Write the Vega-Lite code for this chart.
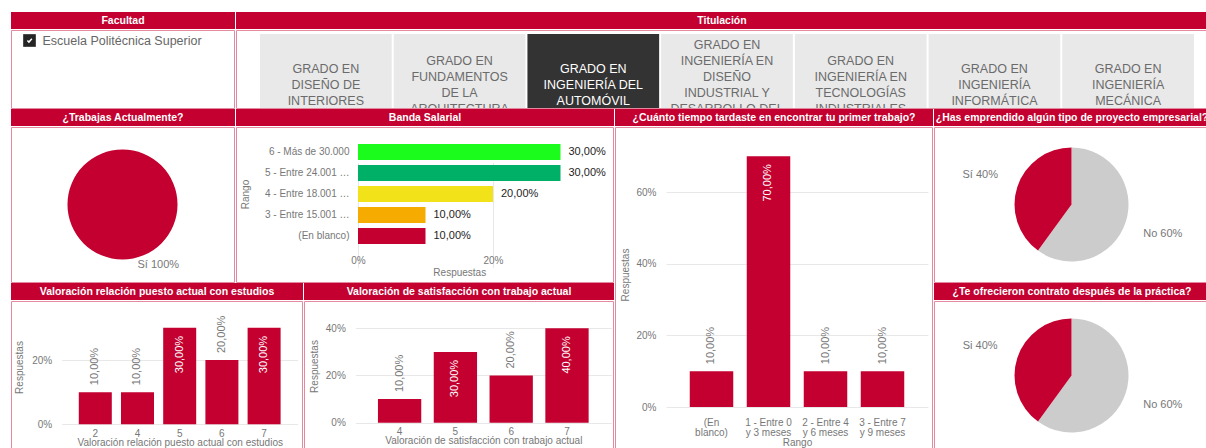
{
  "$schema": "https://vega.github.io/schema/vega-lite/v6.json",
  "padding": {"left": 10, "top": 12, "right": 0, "bottom": 0},
  "spacing": 0,
  "resolve": {"scale": {"color": "independent", "theta": "independent"}},
  "config": {
    "font": "Liberation Sans",
    "view": {"stroke": null},
    "concat": {"spacing": 0},
    "locale": {"number": {"decimal": ",", "thousands": ".", "grouping": [3], "currency": ["", " €"]}},
    "axis": {
      "labelColor": "#777777", "titleColor": "#777777", "labelFontSize": 10, "titleFontSize": 10,
      "titleFontWeight": "normal", "ticks": false, "domain": false, "gridColor": "#e8e8e8",
      "labelFont": "Liberation Sans", "titleFont": "Liberation Sans", "labelFlush": false, "labelOverlap": false
    }
  },
  "vconcat": [
    {
      "resolve": {"scale": {"color": "independent", "theta": "independent"}},
      "hconcat": [
        {
          "resolve": {"scale": {"color": "independent", "theta": "independent"}},
          "vconcat": [
            {"width": 224, "height": 17, "view": {"fill": "#c3002f", "stroke": null},
             "data": {"values": [{"titulo": "Facultad"}]},
             "layer": [{"mark": {"type": "text", "color": "white", "fontWeight": "bold", "fontSize": 10.5, "clip": true},
                        "encoding": {"text": {"field": "titulo", "type": "nominal"}}}]},
            {"width": 223, "height": 78, "view": {"fill": "white", "stroke": "#e38aa1"},
             "data": {"values": [{"facultad": "Escuela Politécnica Superior", "seleccionada": "sí"}]},
             "encoding": {
               "y": {"field": "facultad", "type": "nominal", "axis": null, "scale": {"range": [0, 21]}},
               "x": {"field": "facultad", "type": "nominal", "axis": null, "scale": {"type": "point", "range": [18.5, 18.5]}}
             },
             "layer": [
               {"mark": {"type": "point", "shape": "square", "filled": true, "color": "#252525", "size": 160, "opacity": 1}},
               {"mark": {"type": "point", "shape": "M -0.55 0 L -0.15 0.4 L 0.6 -0.45", "filled": false, "stroke": "white", "strokeWidth": 1.5, "size": 60, "opacity": 1}},
               {"mark": {"type": "text", "align": "left", "baseline": "middle", "dx": 13, "fontSize": 12.5, "color": "#666666"},
                "encoding": {"text": {"field": "facultad", "type": "nominal"}}}
             ]}
          ]
        },
        {
          "resolve": {"scale": {"color": "independent", "theta": "independent"}},
          "vconcat": [
            {"width": 972, "height": 17, "view": {"fill": "#c3002f", "stroke": null},
             "data": {"values": [{"titulo": "Titulación"}]},
             "layer": [{"mark": {"type": "text", "color": "white", "fontWeight": "bold", "fontSize": 10.5, "clip": true},
                        "encoding": {"text": {"field": "titulo", "type": "nominal"}}}]},
            {"width": 971, "height": 78, "view": {"fill": "white", "stroke": "#e38aa1"},
             "data": {"values": [
               {"titulacion": "GRADO EN DISEÑO DE INTERIORES", "etiqueta": "GRADO EN\nDISEÑO DE\nINTERIORES", "seleccionada": "no", "grupo": "Titulación"},
               {"titulacion": "GRADO EN FUNDAMENTOS DE LA ARQUITECTURA", "etiqueta": "GRADO EN\nFUNDAMENTOS\nDE LA\nARQUITECTURA", "seleccionada": "no", "grupo": "Titulación"},
               {"titulacion": "GRADO EN INGENIERÍA DEL AUTOMÓVIL", "etiqueta": "GRADO EN\nINGENIERÍA DEL\nAUTOMÓVIL", "seleccionada": "sí", "grupo": "Titulación"},
               {"titulacion": "GRADO EN INGENIERÍA EN DISEÑO INDUSTRIAL Y DESARROLLO DEL PRODUCTO", "etiqueta": "GRADO EN\nINGENIERÍA EN\nDISEÑO\nINDUSTRIAL Y\nDESARROLLO DEL\nPRODUCTO", "seleccionada": "no", "grupo": "Titulación"},
               {"titulacion": "GRADO EN INGENIERÍA EN TECNOLOGÍAS INDUSTRIALES", "etiqueta": "GRADO EN\nINGENIERÍA EN\nTECNOLOGÍAS\nINDUSTRIALES", "seleccionada": "no", "grupo": "Titulación"},
               {"titulacion": "GRADO EN INGENIERÍA INFORMÁTICA", "etiqueta": "GRADO EN\nINGENIERÍA\nINFORMÁTICA", "seleccionada": "no", "grupo": "Titulación"},
               {"titulacion": "GRADO EN INGENIERÍA MECÁNICA", "etiqueta": "GRADO EN\nINGENIERÍA\nMECÁNICA", "seleccionada": "no", "grupo": "Titulación"}
             ]},
             "encoding": {
               "x": {"field": "titulacion", "type": "nominal", "sort": null, "axis": null, "scale": {"range": [24, 958], "paddingInner": 0.015, "paddingOuter": 0}},
               "y": {"field": "grupo", "type": "nominal", "axis": null, "scale": {"range": [4, 105], "paddingInner": 0, "paddingOuter": 0}}
             },
             "layer": [
               {"mark": {"type": "rect", "clip": true},
                "encoding": {"color": {"field": "seleccionada", "type": "nominal", "legend": null, "scale": {"domain": ["no", "sí"], "range": ["#e9e9e9", "#333333"]}}}},
               {"transform": [{"filter": "length(split(datum.etiqueta, '\\n')) == 3"}],
                "mark": {"type": "text", "clip": true, "lineBreak": "\n", "lineHeight": 16, "fontSize": 12.5, "baseline": "middle", "dy": -16},
                "encoding": {
                  "text": {"field": "etiqueta", "type": "nominal"},
                  "color": {"field": "seleccionada", "type": "nominal", "legend": null, "scale": {"domain": ["no", "sí"], "range": ["#6b6b6b", "#ffffff"]}}
                }},
               {"transform": [{"filter": "length(split(datum.etiqueta, '\\n')) == 4"}],
                "mark": {"type": "text", "clip": true, "lineBreak": "\n", "lineHeight": 16, "fontSize": 12.5, "baseline": "middle", "dy": -24},
                "encoding": {
                  "text": {"field": "etiqueta", "type": "nominal"},
                  "color": {"field": "seleccionada", "type": "nominal", "legend": null, "scale": {"domain": ["no", "sí"], "range": ["#6b6b6b", "#ffffff"]}}
                }},
               {"transform": [{"filter": "length(split(datum.etiqueta, '\\n')) == 6"}],
                "mark": {"type": "text", "clip": true, "lineBreak": "\n", "lineHeight": 16, "fontSize": 12.5, "baseline": "middle", "dy": -40},
                "encoding": {
                  "text": {"field": "etiqueta", "type": "nominal"},
                  "color": {"field": "seleccionada", "type": "nominal", "legend": null, "scale": {"domain": ["no", "sí"], "range": ["#6b6b6b", "#ffffff"]}}
                }}
             ],
             "resolve": {"scale": {"color": "independent"}}}
          ]
        }
      ]
    },
    {
      "resolve": {"scale": {"color": "independent", "theta": "independent"}},
      "hconcat": [
        {
          "resolve": {"scale": {"color": "independent", "theta": "independent"}},
          "vconcat": [
            {
              "resolve": {"scale": {"color": "independent", "theta": "independent"}},
              "hconcat": [
                {
                  "resolve": {"scale": {"color": "independent", "theta": "independent"}},
                  "vconcat": [
                    {"width": 224, "height": 17, "view": {"fill": "#c3002f", "stroke": null},
                     "data": {"values": [{"titulo": "¿Trabajas Actualmente?"}]},
                     "layer": [{"mark": {"type": "text", "color": "white", "fontWeight": "bold", "fontSize": 10.5, "clip": true},
                                "encoding": {"text": {"field": "titulo", "type": "nominal"}}}]},
                    {"width": 223, "height": 155, "view": {"fill": "white", "stroke": "#e38aa1"},
                     "data": {"values": [{"respuesta": "Sí", "pct": 1}]},
                     "encoding": {"theta": {"field": "pct", "type": "quantitative", "stack": true}},
                     "layer": [
                       {"mark": {"type": "arc", "outerRadius": 55},
                        "encoding": {"color": {"field": "respuesta", "type": "nominal", "legend": null, "scale": {"domain": ["Sí"], "range": ["#c3002f"]}}}},
                       {"transform": [{"calculate": "datum.respuesta + ' ' + format(datum.pct, '.0%')", "as": "etiqueta"}],
                        "mark": {"type": "text", "radius": 60, "align": "left", "baseline": "middle", "dx": 15, "fontSize": 11, "color": "#777777"},
                        "encoding": {"text": {"field": "etiqueta", "type": "nominal"}, "detail": {"field": "respuesta", "type": "nominal"}}}
                     ]}
                  ]
                },
                {
                  "resolve": {"scale": {"color": "independent", "theta": "independent"}},
                  "vconcat": [
                    {"width": 378, "height": 17, "view": {"fill": "#c3002f", "stroke": null},
                     "data": {"values": [{"titulo": "Banda Salarial"}]},
                     "layer": [{"mark": {"type": "text", "color": "white", "fontWeight": "bold", "fontSize": 10.5, "clip": true},
                                "encoding": {"text": {"field": "titulo", "type": "nominal"}}}]},
                    {"width": 377, "height": 155, "view": {"fill": "white", "stroke": "#e38aa1"},
                     "data": {"values": [
                       {"rango": "6 - Más de 30.000", "pct": 0.3},
                       {"rango": "5 - Entre 24.001 y 30.000", "pct": 0.3},
                       {"rango": "4 - Entre 18.001 y 24.000", "pct": 0.2},
                       {"rango": "3 - Entre 15.001 y 18.000", "pct": 0.1},
                       {"rango": "(En blanco)", "pct": 0.1}
                     ]},
                     "encoding": {
                       "y": {"field": "rango", "type": "nominal", "sort": null,
                             "scale": {"range": [14.5, 119.5], "paddingInner": 0.238, "paddingOuter": 0.119},
                             "axis": {"orient": "left", "offset": -122, "labelPadding": 9, "labelLimit": 86, "title": "Rango", "titlePadding": 14, "grid": false}},
                       "x": {"field": "pct", "type": "quantitative",
                             "scale": {"domain": [0, 0.3], "range": [122, 324.5], "nice": false},
                             "axis": {"orient": "bottom", "offset": -31, "values": [0, 0.2], "format": ".0%", "labelPadding": 4, "title": "Respuestas", "titlePadding": 2, "grid": true}}
                     },
                     "layer": [
                       {"mark": {"type": "bar"},
                        "encoding": {"color": {"field": "rango", "type": "nominal", "legend": null,
                          "scale": {"domain": ["6 - Más de 30.000", "5 - Entre 24.001 y 30.000", "4 - Entre 18.001 y 24.000", "3 - Entre 15.001 y 18.000", "(En blanco)"],
                                    "range": ["#1cfc1c", "#00b067", "#f2e21a", "#f5ab00", "#c3002f"]}}}},
                       {"mark": {"type": "text", "align": "left", "baseline": "middle", "dx": 8, "fontSize": 11, "color": "#252423"},
                        "encoding": {"text": {"field": "pct", "type": "quantitative", "format": ".2%"}}}
                     ]}
                  ]
                }
              ]
            },
            {
              "resolve": {"scale": {"color": "independent", "theta": "independent"}},
              "hconcat": [
                {
                  "resolve": {"scale": {"color": "independent", "theta": "independent"}},
                  "vconcat": [
                    {"width": 292, "height": 17, "view": {"fill": "#c3002f", "stroke": null},
                     "data": {"values": [{"titulo": "Valoración relación puesto actual con estudios"}]},
                     "layer": [{"mark": {"type": "text", "color": "white", "fontWeight": "bold", "fontSize": 10.5, "clip": true},
                                "encoding": {"text": {"field": "titulo", "type": "nominal"}}}]},
                    {"width": 291, "height": 149, "view": {"fill": "white", "stroke": "#e38aa1"},
                     "data": {"values": [
                       {"valor": 2, "pct": 0.1}, {"valor": 4, "pct": 0.1}, {"valor": 5, "pct": 0.3}, {"valor": 6, "pct": 0.2}, {"valor": 7, "pct": 0.3}
                     ]},
                     "encoding": {
                       "x": {"field": "valor", "type": "ordinal",
                             "scale": {"range": [50.7, 286.7], "paddingInner": 0.218, "paddingOuter": 0.405},
                             "axis": {"orient": "bottom", "offset": -25.7, "labelAngle": 0, "labelPadding": 4, "title": "Valoración relación puesto actual con estudios", "titlePadding": -1}},
                       "y": {"field": "pct", "type": "quantitative",
                             "scale": {"domain": [0, 0.3565], "range": [123.3, 8.7], "nice": false},
                             "axis": {"orient": "left", "offset": -50.7, "values": [0, 0.2], "format": ".0%", "labelPadding": 10, "title": "Respuestas", "titlePadding": 7, "grid": true}}
                     },
                     "layer": [
                       {"mark": {"type": "bar", "color": "#c3002f"}},
                       {"transform": [{"filter": "datum.pct < 0.3"}],
                        "mark": {"type": "text", "angle": 270, "align": "left", "baseline": "middle", "dx": 7, "fontSize": 11, "color": "#777777"},
                        "encoding": {"text": {"field": "pct", "type": "quantitative", "format": ".2%"}}},
                       {"transform": [{"filter": "datum.pct >= 0.3"}],
                        "mark": {"type": "text", "angle": 270, "align": "right", "baseline": "middle", "dx": -8, "fontSize": 11, "color": "#ffffff"},
                        "encoding": {"text": {"field": "pct", "type": "quantitative", "format": ".2%"}}}
                     ]}
                  ]
                },
                {
                  "resolve": {"scale": {"color": "independent", "theta": "independent"}},
                  "vconcat": [
                    {"width": 310, "height": 17, "view": {"fill": "#c3002f", "stroke": null},
                     "data": {"values": [{"titulo": "Valoración de satisfacción con trabajo actual"}]},
                     "layer": [{"mark": {"type": "text", "color": "white", "fontWeight": "bold", "fontSize": 10.5, "clip": true},
                                "encoding": {"text": {"field": "titulo", "type": "nominal"}}}]},
                    {"width": 309, "height": 149, "view": {"fill": "white", "stroke": "#e38aa1"},
                     "data": {"values": [
                       {"valor": 4, "pct": 0.1}, {"valor": 5, "pct": 0.3}, {"valor": 6, "pct": 0.2}, {"valor": 7, "pct": 0.4}
                     ]},
                     "encoding": {
                       "x": {"field": "valor", "type": "ordinal",
                             "scale": {"range": [51.3, 307.3], "paddingInner": 0.224, "paddingOuter": 0.406},
                             "axis": {"orient": "bottom", "offset": -27.3, "labelAngle": 0, "labelPadding": 4, "title": "Valoración de satisfacción con trabajo actual", "titlePadding": -1}},
                       "y": {"field": "pct", "type": "quantitative",
                             "scale": {"domain": [0, 0.4805], "range": [121.7, 8.3], "nice": false},
                             "axis": {"orient": "left", "offset": -51.3, "values": [0, 0.2, 0.4], "format": ".0%", "labelPadding": 10, "title": "Respuestas", "titlePadding": 6, "grid": true}}
                     },
                     "layer": [
                       {"mark": {"type": "bar", "color": "#c3002f"}},
                       {"transform": [{"filter": "datum.pct < 0.3"}],
                        "mark": {"type": "text", "angle": 270, "align": "left", "baseline": "middle", "dx": 7, "fontSize": 11, "color": "#777777"},
                        "encoding": {"text": {"field": "pct", "type": "quantitative", "format": ".2%"}}},
                       {"transform": [{"filter": "datum.pct >= 0.3"}],
                        "mark": {"type": "text", "angle": 270, "align": "right", "baseline": "middle", "dx": -8, "fontSize": 11, "color": "#ffffff"},
                        "encoding": {"text": {"field": "pct", "type": "quantitative", "format": ".2%"}}}
                     ]}
                  ]
                }
              ]
            }
          ]
        },
        {
          "resolve": {"scale": {"color": "independent", "theta": "independent"}},
          "vconcat": [
            {"width": 318, "height": 17, "view": {"fill": "#c3002f", "stroke": null},
             "data": {"values": [{"titulo": "¿Cuánto tiempo tardaste en encontrar tu primer trabajo?"}]},
             "layer": [{"mark": {"type": "text", "color": "white", "fontWeight": "bold", "fontSize": 10.5, "clip": true},
                        "encoding": {"text": {"field": "titulo", "type": "nominal"}}}]},
            {"width": 317, "height": 322, "view": {"fill": "white", "stroke": "#e38aa1"},
             "data": {"values": [
               {"rango": "(En blanco)", "pct": 0.1},
               {"rango": "1 - Entre 0 y 3 meses", "pct": 0.7},
               {"rango": "2 - Entre 4 y 6 meses", "pct": 0.1},
               {"rango": "3 - Entre 7 y 9 meses", "pct": 0.1}
             ]},
             "encoding": {
               "x": {"field": "rango", "type": "nominal",
                     "scale": {"range": [51, 313], "paddingInner": 0.237, "paddingOuter": 0.4167},
                     "axis": {"orient": "bottom", "offset": -42, "labelAngle": 0, "labelPadding": 10, "labelLineHeight": 10, "labelLimit": 200,
                              "labelExpr": "datum.label == '(En blanco)' ? ['(En', 'blanco)'] : [slice(datum.label, 0, 11), slice(datum.label, 12)]",
                              "title": "Rango", "titlePadding": 0}},
               "y": {"field": "pct", "type": "quantitative",
                     "scale": {"domain": [0, 0.7396], "range": [280, 15], "nice": false},
                     "axis": {"orient": "left", "offset": -51, "values": [0, 0.2, 0.4, 0.6], "format": ".0%", "labelPadding": 10, "title": "Respuestas", "titlePadding": 5, "grid": true}}
             },
             "layer": [
               {"mark": {"type": "bar", "color": "#c3002f"}},
               {"transform": [{"filter": "datum.pct < 0.3"}],
                "mark": {"type": "text", "angle": 270, "align": "left", "baseline": "middle", "dx": 7, "fontSize": 11, "color": "#777777"},
                "encoding": {"text": {"field": "pct", "type": "quantitative", "format": ".2%"}}},
               {"transform": [{"filter": "datum.pct >= 0.3"}],
                "mark": {"type": "text", "angle": 270, "align": "right", "baseline": "middle", "dx": -8, "fontSize": 11, "color": "#ffffff"},
                "encoding": {"text": {"field": "pct", "type": "quantitative", "format": ".2%"}}}
             ]}
          ]
        },
        {
          "resolve": {"scale": {"color": "independent", "theta": "independent"}},
          "vconcat": [
            {"width": 276, "height": 17, "view": {"fill": "#c3002f", "stroke": null},
             "data": {"values": [{"titulo": "¿Has emprendido algún tipo de proyecto empresarial?"}]},
             "layer": [{"mark": {"type": "text", "color": "white", "fontWeight": "bold", "fontSize": 10.5, "clip": true},
                        "encoding": {"text": {"field": "titulo", "type": "nominal"}}}]},
            {"width": 275, "height": 155, "view": {"fill": "white", "stroke": "#e38aa1"},
             "data": {"values": [{"respuesta": "No", "pct": 0.6}, {"respuesta": "Sí", "pct": 0.4}]},
             "encoding": {"theta": {"field": "pct", "type": "quantitative", "stack": true}},
             "layer": [
               {"mark": {"type": "arc", "outerRadius": 57},
                "encoding": {"color": {"field": "respuesta", "type": "nominal", "legend": null, "scale": {"domain": ["No", "Sí"], "range": ["#cccccc", "#c3002f"]}}}},
               {"transform": [{"calculate": "datum.respuesta + ' ' + format(datum.pct, '.0%')", "as": "etiqueta"}],
                "mark": {"type": "text", "radius": 96, "align": "center", "baseline": "middle", "fontSize": 11, "color": "#777777"},
                "encoding": {"text": {"field": "etiqueta", "type": "nominal"}, "detail": {"field": "respuesta", "type": "nominal"}}}
             ]},
            {"width": 276, "height": 17, "view": {"fill": "#c3002f", "stroke": null},
             "data": {"values": [{"titulo": "¿Te ofrecieron contrato después de la práctica?"}]},
             "layer": [{"mark": {"type": "text", "color": "white", "fontWeight": "bold", "fontSize": 10.5, "clip": true},
                        "encoding": {"text": {"field": "titulo", "type": "nominal"}}}]},
            {"width": 275, "height": 149, "view": {"fill": "white", "stroke": "#e38aa1"},
             "data": {"values": [{"respuesta": "No", "pct": 0.6}, {"respuesta": "Si", "pct": 0.4}]},
             "encoding": {"theta": {"field": "pct", "type": "quantitative", "stack": true}},
             "layer": [
               {"mark": {"type": "arc", "outerRadius": 57},
                "encoding": {"color": {"field": "respuesta", "type": "nominal", "legend": null, "scale": {"domain": ["No", "Si"], "range": ["#cccccc", "#c3002f"]}}}},
               {"transform": [{"calculate": "datum.respuesta + ' ' + format(datum.pct, '.0%')", "as": "etiqueta"}],
                "mark": {"type": "text", "radius": 96, "align": "center", "baseline": "middle", "fontSize": 11, "color": "#777777"},
                "encoding": {"text": {"field": "etiqueta", "type": "nominal"}, "detail": {"field": "respuesta", "type": "nominal"}}}
             ]}
          ]
        }
      ]
    }
  ]
}
